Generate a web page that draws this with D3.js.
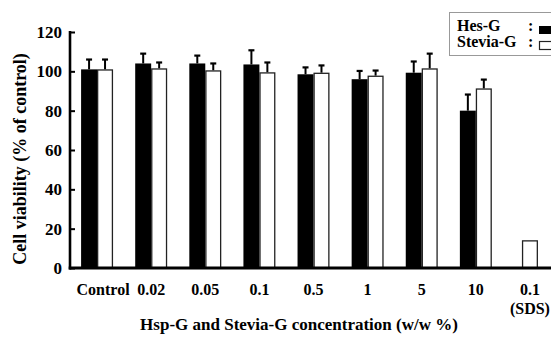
<!DOCTYPE html>
<html><head><meta charset="utf-8">
<script src="https://cdn.jsdelivr.net/npm/d3@7"></script>
<style>html,body{margin:0;padding:0;background:#fff;}svg{display:block;}</style>
</head><body><svg id="c" width="551" height="340"></svg>
<script>
const categories = ["Control","0.02","0.05","0.1","0.5","1","5","10","0.1 (SDS)"];
const seriesNames = ["Hes-G","Stevia-G"];
const hesG      = [101, 104, 104, 103.5, 98.5, 96, 99.3, 80, null];
const hesGErr   = [5, 5, 4, 7.2, 3.5, 4.2, 5.7, 8.2, null];
const steviaG   = [101, 101.5, 100.5, 99.5, 99.3, 97.8, 101.5, 91.3, 14.1];
const steviaGErr= [5, 3, 3.5, 5, 3.7, 2.6, 7.5, 4.5, 0];
const yTicks = [0, 20, 40, 60, 80, 100, 120];
const yTitle = "Cell viability (% of control)";
const xTitle = "Hsp-G and Stevia-G concentration (w/w %)";

(function(){
const FONT = "Liberation Serif, Tinos, Times New Roman, DejaVu Serif, serif";
const svg = d3.select("#c");
const mLeft = 70, mBottom = 268, mTop = 32;

const y = d3.scaleLinear().domain([0,120]).range([mBottom, mTop]);
const x0 = d3.scaleBand().domain(categories).range([mLeft, 557]).paddingInner(0.41).paddingOuter(0.205);
const x1 = d3.scaleBand().domain(seriesNames).range([0, x0.bandwidth()]);

const rows = categories.map((c,i)=>({c, vals:[
  {s:"Hes-G", v:hesG[i], e:hesGErr[i]},
  {s:"Stevia-G", v:steviaG[i], e:steviaGErr[i]}
]}));

const g = svg.append("g");
rows.forEach(r=>{
  const present = r.vals.filter(d=>d.v!=null);
  present.forEach(d=>{
    let bx = x0(r.c) + x1(d.s);
    if (present.length===1) bx = x0(r.c) + (x0.bandwidth()-x1.bandwidth())/2;
    const w = x1.bandwidth();
    const cx = bx + w/2;
    if (d.e) {
      g.append("line").attr("x1",cx).attr("x2",cx).attr("y1",y(d.v)).attr("y2",y(d.v+d.e))
        .attr("stroke","#000").attr("stroke-width",2);
      g.append("line").attr("x1",cx-3).attr("x2",cx+3).attr("y1",y(d.v+d.e)).attr("y2",y(d.v+d.e))
        .attr("stroke","#000").attr("stroke-width",2.2);
    }
    if (d.s==="Hes-G") {
      g.append("rect").attr("x",bx).attr("y",y(d.v)).attr("width",w).attr("height",y(0)-y(d.v)).attr("fill","#000");
    } else {
      g.append("rect").attr("x",bx+0.6).attr("y",y(d.v)+0.6).attr("width",w-1.2).attr("height",y(0)-y(d.v)-0.6)
        .attr("fill","#fff").attr("stroke","#222").attr("stroke-width",1.3);
    }
  });
});

// Y axis
const yAxis = d3.axisLeft(y).tickValues(yTicks).tickSize(-5).tickPadding(8);
const ya = svg.append("g").attr("transform",`translate(${mLeft},0)`).call(yAxis);
ya.select(".domain").remove();
ya.selectAll(".tick line").attr("stroke","#000").attr("stroke-width",2);
ya.selectAll(".tick text").style("font-family",FONT).attr("font-weight","bold").attr("font-size",17).attr("fill","#000");
svg.append("line").attr("x1",mLeft).attr("x2",mLeft).attr("y1",mTop-1).attr("y2",mBottom+1.5)
  .attr("stroke","#000").attr("stroke-width",2.6);

// X axis
const xAxis = d3.axisBottom(x0).tickSize(0).tickPadding(0).tickFormat("");
const xa = svg.append("g").attr("transform",`translate(0,${mBottom})`).call(xAxis);
xa.select(".domain").remove();
xa.selectAll(".tick").each(function(c, i){
  const parts = c.split(" ");
  parts.forEach((p,j)=>d3.select(this).append("text").style("font-family",FONT).attr("font-weight","bold")
    .attr("font-size",16).attr("fill","#000").attr("text-anchor","middle")
    .attr("x", i===0 ? 6 : 0).attr("y",27+j*18.5).text(p));
});
svg.append("line").attr("x1",mLeft-1.3).attr("x2",551).attr("y1",mBottom).attr("y2",mBottom)
  .attr("stroke","#000").attr("stroke-width",2.8);

// Titles
svg.append("text").attr("transform","translate(26,159) rotate(-90)").attr("text-anchor","middle")
  .style("font-family",FONT).attr("font-weight","bold").attr("font-size",18).text(yTitle);
svg.append("text").attr("x",299).attr("y",330).attr("text-anchor","middle")
  .style("font-family",FONT).attr("font-weight","bold").attr("font-size",17).text(xTitle);

// Legend
const lg = svg.append("g");
lg.append("rect").attr("x",449.5).attr("y",12.5).attr("width",120).attr("height",43)
  .attr("fill","#fff").attr("stroke","#999").attr("stroke-width",1);
seriesNames.forEach((s,i)=>{
  const by = 31 + i*16;
  lg.append("text").attr("x",457).attr("y",by).style("font-family",FONT).attr("font-weight","bold")
    .attr("font-size",16).text(s);
  lg.append("text").attr("x",528).attr("y",by).style("font-family",FONT).attr("font-weight","bold")
    .attr("font-size",16).text(":");
  if (i===0) lg.append("rect").attr("x",539).attr("y",by-5).attr("width",16).attr("height",8).attr("fill","#000");
  else lg.append("rect").attr("x",539.5).attr("y",by-5.5).attr("width",16).attr("height",8)
    .attr("fill","#fff").attr("stroke","#222").attr("stroke-width",1.2);
});
})();
</script></body></html>
